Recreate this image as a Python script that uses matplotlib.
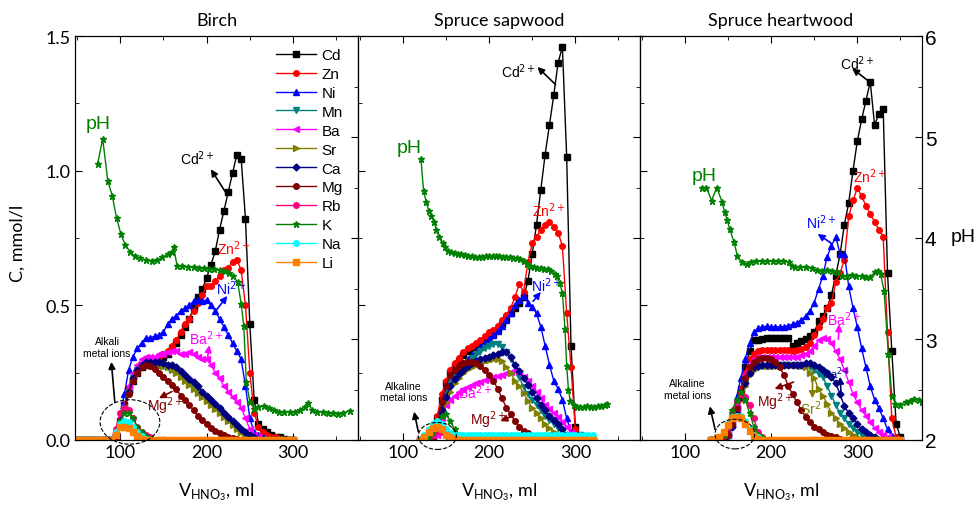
import numpy as np
import matplotlib
matplotlib.use('Agg')
import matplotlib.pyplot as plt
from matplotlib.patches import Ellipse
from matplotlib.ticker import MultipleLocator

NARROW = ['Lato', 'DejaVu Sans']
ARIAL = ['Liberation Sans', 'DejaVu Sans']

ELEMENTS = ['Cd', 'Zn', 'Ni', 'Mn', 'Ba', 'Sr', 'Ca', 'Mg', 'Rb', 'K', 'Na', 'Li']
COLORS = {'Cd': 'black', 'Zn': '#ff0000', 'Ni': '#0000ff', 'Mn': '#008080',
          'Ba': '#ff00ff', 'Sr': '#808000', 'Ca': '#000080', 'Mg': '#800000',
          'Rb': '#ff0080', 'K': '#008000', 'Na': '#00ffff', 'Li': '#ff8000'}
MARKERS = {'Cd': 's', 'Zn': 'o', 'Ni': '^', 'Mn': 'v', 'Ba': '<', 'Sr': '>',
           'Ca': 'D', 'Mg': 'o', 'Rb': 'o', 'K': '*', 'Na': 'o', 'Li': 's'}
MSIZE = {'Cd': 4, 'Zn': 4, 'Ni': 4.5, 'Mn': 4.5, 'Ba': 4.5, 'Sr': 4.5, 'Ca': 3.5,
         'Mg': 4, 'Rb': 4, 'K': 5, 'Na': 4, 'Li': 4}

# ---- Birch: sample volumes (ml) and concentrations (mmol/l) ----
birch_v = np.arange(50, 305, 5)
birch_cd = (95, [0.02, 0.07, 0.13, 0.19, 0.22, 0.25, 0.27, 0.28, 0.29, 0.29, 0.30, 0.31, 0.32, 0.34,
                 0.36, 0.39, 0.42, 0.45, 0.49, 0.53, 0.56, 0.60, 0.65, 0.70, 0.78, 0.85, 0.92, 0.99,
                 1.06, 1.045, 0.82, 0.43, 0.15, 0.06, 0.04, 0.03, 0.02, 0.01, 0.01, 0.005])
birch_zn = (95, [0.02, 0.07, 0.13, 0.19, 0.23, 0.26, 0.28, 0.29, 0.30, 0.30, 0.31, 0.32, 0.33, 0.35,
                 0.37, 0.40, 0.43, 0.45, 0.48, 0.51, 0.54, 0.57, 0.57, 0.59, 0.61, 0.63, 0.64, 0.66,
                 0.67, 0.63, 0.50, 0.25, 0.10, 0.05, 0.03, 0.02, 0.01, 0.01, 0.005])
birch_ni = (95, [0.02, 0.08, 0.17, 0.26, 0.31, 0.34, 0.36, 0.38, 0.38, 0.385, 0.39, 0.40, 0.43, 0.45,
                 0.46, 0.48, 0.49, 0.50, 0.515, 0.52, 0.515, 0.52, 0.50, 0.48, 0.45, 0.42, 0.39, 0.36,
                 0.33, 0.30, 0.20, 0.08, 0.03, 0.02, 0.01])
birch_mn = (95, [0.01, 0.06, 0.12, 0.18, 0.23, 0.26, 0.275, 0.285, 0.285, 0.285, 0.28, 0.275, 0.27,
                 0.265, 0.255, 0.24, 0.225, 0.21, 0.195, 0.18, 0.165, 0.15, 0.135, 0.12, 0.105, 0.09,
                 0.075, 0.06, 0.045, 0.035, 0.025, 0.015, 0.01])
birch_ba = (95, [0.01, 0.05, 0.12, 0.20, 0.25, 0.28, 0.30, 0.31, 0.31, 0.31, 0.32, 0.32, 0.325, 0.33,
                 0.33, 0.32, 0.32, 0.325, 0.32, 0.31, 0.30, 0.30, 0.28, 0.25, 0.23, 0.20, 0.18, 0.16,
                 0.14, 0.12, 0.08, 0.04, 0.02, 0.01])
birch_sr = (95, [0.01, 0.05, 0.11, 0.17, 0.22, 0.25, 0.27, 0.28, 0.285, 0.285, 0.28, 0.275, 0.27, 0.26,
                 0.25, 0.235, 0.22, 0.205, 0.19, 0.175, 0.16, 0.145, 0.13, 0.115, 0.10, 0.085, 0.07,
                 0.055, 0.04, 0.03, 0.02, 0.01])
birch_ca = (95, [0.01, 0.06, 0.12, 0.18, 0.23, 0.26, 0.28, 0.29, 0.29, 0.29, 0.29, 0.285, 0.28, 0.28,
                 0.27, 0.255, 0.24, 0.225, 0.215, 0.20, 0.18, 0.165, 0.15, 0.135, 0.12, 0.10, 0.085,
                 0.07, 0.055, 0.04, 0.03, 0.02, 0.01])
birch_mg = (95, [0.01, 0.05, 0.11, 0.17, 0.22, 0.25, 0.27, 0.28, 0.275, 0.265, 0.25, 0.235, 0.22,
                 0.205, 0.19, 0.165, 0.15, 0.13, 0.11, 0.09, 0.075, 0.06, 0.045, 0.035, 0.025, 0.018,
                 0.012, 0.008, 0.005])
birch_rb = (95, [0.04, 0.10, 0.12, 0.11, 0.08, 0.05, 0.03, 0.02, 0.01])
birch_k = (95, [0.03, 0.07, 0.10, 0.10, 0.08, 0.05, 0.03, 0.015, 0.005])
birch_na = (95, [0.03, 0.06, 0.07, 0.065, 0.05, 0.03, 0.015, 0.005])
birch_li = (95, [0.02, 0.05, 0.05, 0.045, 0.03, 0.015, 0.005])
birch_ph_v = [74, 80, 86, 91, 96, 101, 106, 112, 117, 123, 130, 137, 143, 149, 155, 160, 162, 166,
              172, 178, 185, 191, 197, 203, 209, 215, 221, 226, 231, 236, 240, 243, 246, 250, 255,
              260, 266, 272, 278, 284, 290, 296, 302, 308, 314, 317, 322, 328, 334, 340, 346, 352,
              358, 366]
birch_ph = [4.73, 4.98, 4.56, 4.42, 4.20, 4.04, 3.93, 3.86, 3.82, 3.80, 3.78, 3.77, 3.78, 3.81, 3.84,
            3.86, 3.91, 3.72, 3.72, 3.71, 3.71, 3.70, 3.70, 3.69, 3.69, 3.68, 3.67, 3.65, 3.62, 3.56,
            3.35, 3.13, 2.57, 2.38, 2.31, 2.33, 2.34, 2.32, 2.30, 2.28, 2.28, 2.28, 2.28, 2.30, 2.33,
            2.37, 2.30, 2.28, 2.28, 2.27, 2.27, 2.26, 2.27, 2.29]

# ---- Spruce sapwood ----
sap_v = np.arange(120, 325, 5)
sap_cd = (140, [0.08, 0.15, 0.21, 0.25, 0.275, 0.295, 0.315, 0.33, 0.34, 0.35, 0.36, 0.37, 0.385,
                0.395, 0.41, 0.43, 0.45, 0.47, 0.49, 0.51, 0.53, 0.59, 0.69, 0.80, 0.93, 1.06, 1.17,
                1.28, 1.40, 1.46, 1.05, 0.35, 0.05, 0.02])
sap_zn = (140, [0.09, 0.17, 0.22, 0.26, 0.285, 0.305, 0.325, 0.34, 0.35, 0.36, 0.37, 0.385, 0.40,
                0.41, 0.425, 0.445, 0.465, 0.49, 0.53, 0.58, 0.55, 0.66, 0.73, 0.755, 0.78, 0.80,
                0.81, 0.79, 0.77, 0.72, 0.47, 0.27, 0.04, 0.01])
sap_ni = (140, [0.07, 0.13, 0.18, 0.215, 0.24, 0.265, 0.285, 0.30, 0.315, 0.33, 0.345, 0.36, 0.375,
                0.39, 0.405, 0.425, 0.445, 0.47, 0.50, 0.52, 0.535, 0.51, 0.495, 0.47, 0.42, 0.35,
                0.28, 0.22, 0.19, 0.15, 0.08, 0.03, 0.01])
sap_mn = (140, [0.06, 0.12, 0.17, 0.21, 0.235, 0.255, 0.275, 0.29, 0.305, 0.318, 0.33, 0.34, 0.35,
                0.355, 0.355, 0.345, 0.325, 0.30, 0.27, 0.235, 0.195, 0.17, 0.15, 0.13, 0.11, 0.09,
                0.075, 0.06, 0.045, 0.03, 0.015, 0.005])
sap_ba = (140, [0.02, 0.08, 0.13, 0.15, 0.165, 0.178, 0.19, 0.198, 0.205, 0.21, 0.215, 0.222, 0.228,
                0.233, 0.237, 0.242, 0.247, 0.252, 0.255, 0.25, 0.235, 0.22, 0.20, 0.18, 0.155, 0.13,
                0.115, 0.10, 0.085, 0.065, 0.05, 0.025, 0.01])
sap_sr = (140, [0.04, 0.09, 0.14, 0.18, 0.21, 0.23, 0.25, 0.262, 0.272, 0.28, 0.287, 0.292, 0.296,
                0.30, 0.30, 0.295, 0.27, 0.25, 0.22, 0.20, 0.175, 0.145, 0.12, 0.10, 0.08, 0.06,
                0.045, 0.03, 0.02, 0.01])
sap_ca = (140, [0.05, 0.11, 0.16, 0.20, 0.225, 0.245, 0.26, 0.275, 0.285, 0.295, 0.30, 0.305, 0.31,
                0.315, 0.32, 0.325, 0.326, 0.31, 0.28, 0.255, 0.23, 0.205, 0.18, 0.155, 0.13, 0.11,
                0.09, 0.075, 0.06, 0.04, 0.02, 0.01])
sap_mg = (140, [0.06, 0.14, 0.20, 0.24, 0.26, 0.275, 0.285, 0.29, 0.29, 0.285, 0.275, 0.26, 0.24,
                0.22, 0.19, 0.155, 0.12, 0.095, 0.07, 0.05, 0.035, 0.025, 0.015, 0.01, 0.005])
sap_rb = (130, [0.01, 0.02, 0.035, 0.03, 0.02, 0.01])
sap_k = (130, [0.01, 0.03, 0.06, 0.09, 0.095, 0.07, 0.04, 0.02, 0.01])
sap_na = (120, [0.005, 0.02, 0.04, 0.06, 0.07, 0.06, 0.04, 0.025, 0.02, 0.018, 0.019, 0.018, 0.017,
                0.018, 0.019, 0.018, 0.018, 0.017, 0.018, 0.019, 0.018, 0.018, 0.017, 0.018, 0.019,
                0.018, 0.018, 0.017, 0.018, 0.019, 0.018, 0.018, 0.017, 0.018, 0.019, 0.018, 0.018,
                0.017, 0.018, 0.019, 0.018])
sap_li = (125, [0.01, 0.03, 0.045, 0.048, 0.04, 0.02, 0.01, 0.005])
sap_ph_v = [121, 124, 127, 130, 133, 136, 139, 142, 146, 149, 152, 156, 160, 164, 168, 172, 176, 180,
            184, 188, 192, 196, 200, 204, 208, 212, 216, 220, 224, 228, 232, 236, 240, 244, 248, 252,
            256, 260, 264, 268, 272, 276, 279, 282, 285, 288, 290, 292, 294, 298, 302, 306, 310, 314,
            318, 322, 326, 330, 334, 337]
sap_ph = [4.78, 4.47, 4.36, 4.27, 4.22, 4.16, 4.08, 4.01, 3.95, 3.91, 3.87, 3.86, 3.85, 3.84, 3.84,
          3.83, 3.82, 3.82, 3.81, 3.81, 3.81, 3.82, 3.82, 3.82, 3.82, 3.82, 3.81, 3.81, 3.81, 3.80,
          3.80, 3.79, 3.77, 3.74, 3.72, 3.71, 3.70, 3.70, 3.69, 3.69, 3.67, 3.64, 3.62, 3.55, 3.46,
          3.10, 2.73, 2.50, 2.39, 2.35, 2.33, 2.33, 2.33, 2.34, 2.33, 2.33, 2.34, 2.34, 2.35, 2.36]

# ---- Spruce heartwood ----
heart_v = np.arange(130, 355, 5)
heart_cd = (150, [0.02, 0.06, 0.12, 0.19, 0.27, 0.33, 0.37, 0.37, 0.375, 0.38, 0.38, 0.38, 0.38, 0.38,
                  0.38, 0.35, 0.36, 0.367, 0.374, 0.385, 0.40, 0.44, 0.46, 0.49, 0.54, 0.61, 0.69,
                  0.80, 0.88, 1.00, 1.11, 1.19, 1.26, 1.33, 1.17, 1.21, 1.23, 0.62, 0.33, 0.06, 0.01])
heart_zn = (150, [0.02, 0.06, 0.12, 0.19, 0.25, 0.30, 0.32, 0.33, 0.335, 0.335, 0.335, 0.335, 0.335,
                  0.335, 0.335, 0.33, 0.335, 0.337, 0.345, 0.36, 0.39, 0.42, 0.45, 0.49, 0.51, 0.585,
                  0.62, 0.67, 0.83, 0.89, 0.935, 0.905, 0.87, 0.84, 0.81, 0.78, 0.755, 0.40, 0.08, 0.01])
heart_ni = (150, [0.02, 0.08, 0.16, 0.23, 0.30, 0.36, 0.40, 0.415, 0.42, 0.422, 0.42, 0.42, 0.42, 0.42,
                  0.425, 0.43, 0.435, 0.445, 0.46, 0.48, 0.51, 0.56, 0.61, 0.68, 0.72, 0.755, 0.69,
                  0.69, 0.57, 0.49, 0.42, 0.34, 0.27, 0.20, 0.15, 0.12, 0.08, 0.04, 0.015])
heart_mn = (150, [0.02, 0.05, 0.10, 0.16, 0.21, 0.25, 0.265, 0.27, 0.275, 0.275, 0.275, 0.278, 0.28,
                  0.28, 0.28, 0.28, 0.28, 0.28, 0.28, 0.27, 0.26, 0.245, 0.235, 0.20, 0.165, 0.13,
                  0.10, 0.08, 0.06, 0.045, 0.03, 0.02, 0.01])
heart_ba = (150, [0.02, 0.06, 0.12, 0.18, 0.24, 0.28, 0.30, 0.31, 0.31, 0.31, 0.31, 0.31, 0.31, 0.31,
                  0.31, 0.31, 0.31, 0.315, 0.32, 0.33, 0.35, 0.37, 0.38, 0.375, 0.36, 0.33, 0.30, 0.26,
                  0.215, 0.17, 0.14, 0.11, 0.09, 0.065, 0.045, 0.03, 0.02, 0.01])
heart_sr = (150, [0.015, 0.05, 0.10, 0.15, 0.20, 0.24, 0.26, 0.27, 0.275, 0.275, 0.275, 0.275, 0.275,
                  0.28, 0.28, 0.28, 0.28, 0.275, 0.27, 0.25, 0.23, 0.19, 0.165, 0.135, 0.10, 0.08,
                  0.06, 0.045, 0.03, 0.02, 0.01])
heart_ca = (150, [0.02, 0.05, 0.10, 0.16, 0.21, 0.25, 0.27, 0.275, 0.28, 0.28, 0.28, 0.28, 0.28, 0.28,
                  0.28, 0.28, 0.28, 0.28, 0.285, 0.285, 0.28, 0.27, 0.26, 0.25, 0.235, 0.21, 0.17,
                  0.125, 0.10, 0.08, 0.06, 0.04, 0.03, 0.02, 0.01])
heart_mg = (150, [0.02, 0.06, 0.12, 0.18, 0.23, 0.27, 0.29, 0.30, 0.305, 0.305, 0.30, 0.29, 0.27,
                  0.24, 0.20, 0.17, 0.14, 0.11, 0.085, 0.065, 0.05, 0.04, 0.03, 0.02, 0.015, 0.01,
                  0.005])
heart_rb = (145, [0.02, 0.05, 0.10, 0.14, 0.17, 0.16, 0.13, 0.08, 0.03, 0.01])
heart_k = (145, [0.02, 0.06, 0.11, 0.15, 0.18, 0.15, 0.10, 0.05, 0.02, 0.01])
heart_na = (140, [0.01, 0.03, 0.06, 0.085, 0.09, 0.09, 0.07, 0.04, 0.02, 0.01])
heart_li = (140, [0.01, 0.03, 0.055, 0.08, 0.085, 0.08, 0.06, 0.035, 0.015, 0.005])
heart_ph_v = [120, 125, 131, 137, 143, 146, 149, 152, 157, 161, 166, 172, 177, 183, 189, 195, 202,
              208, 214, 221, 224, 228, 234, 241, 247, 253, 259, 265, 271, 276, 282, 288, 294, 299,
              305, 310, 315, 320, 324, 327, 331, 336, 340, 344, 350, 356, 361, 366, 371, 375]
heart_ph = [4.50, 4.50, 4.37, 4.50, 4.36, 4.26, 4.18, 4.09, 3.96, 3.82, 3.76, 3.74, 3.76, 3.77, 3.77,
            3.77, 3.77, 3.77, 3.77, 3.76, 3.72, 3.71, 3.71, 3.71, 3.70, 3.68, 3.67, 3.68, 3.67, 3.66,
            3.62, 3.62, 3.63, 3.62, 3.62, 3.61, 3.61, 3.66, 3.67, 3.64, 3.48, 2.85, 2.44, 2.36, 2.35,
            2.38, 2.39, 2.41, 2.40, 2.38]


def pad(grid, start, vals):
    # place the measured values on the panel's volume grid, zero elsewhere
    y = np.zeros(len(grid))
    i = int(np.searchsorted(grid, start))
    y[i:i + len(vals)] = vals
    return y


def note(ax, text, pos, color, tail=None, head=None, size=10):
    ax.text(pos[0], pos[1], text, color=color, fontsize=size, ha='center', va='center',
            family=ARIAL, zorder=20)
    if tail is not None:
        ax.annotate('', xy=head, xytext=tail, zorder=20,
                    arrowprops=dict(arrowstyle='-|>', color=color, lw=1.2,
                                    mutation_scale=10, shrinkA=0, shrinkB=0))


def draw_panel(ax, grid, series, ph_v, ph, title):
    for el in ELEMENTS:
        start, vals = series[el]
        ax.plot(grid, pad(grid, start, vals), color=COLORS[el], marker=MARKERS[el],
                ms=MSIZE[el], lw=1.0, label=el)
    ax.set_xlim(48, 375)
    ax.set_ylim(0, 1.5)
    ax.xaxis.set_major_locator(MultipleLocator(100))
    ax.xaxis.set_minor_locator(MultipleLocator(50))
    ax.yaxis.set_major_locator(MultipleLocator(0.5))
    ax.yaxis.set_minor_locator(MultipleLocator(0.25))
    ax.tick_params(which='both', direction='in', top=True, right=False, labelsize=13, pad=3)
    ax.tick_params(which='major', length=5)
    ax.tick_params(which='minor', length=3)
    ax.set_title(title, fontsize=13, family=NARROW, pad=8)
    ax.set_xlabel('V$_{\\mathregular{HNO_3}}$, ml', fontsize=13, family=NARROW, labelpad=14)

    ax2 = ax.twinx()
    ax2.plot(ph_v, ph, color='#008000', marker='*', ms=4.5, lw=1.0)
    ax2.set_ylim(2, 6)
    ax2.yaxis.set_major_locator(MultipleLocator(1))
    ax2.yaxis.set_minor_locator(MultipleLocator(0.5))
    ax2.tick_params(which='both', direction='in', labelsize=15, pad=2)
    ax2.tick_params(which='major', length=5)
    ax2.tick_params(which='minor', length=3)
    for lab in ax.get_xticklabels() + ax.get_yticklabels():
        lab.set_family(NARROW)
    for lab in ax2.get_yticklabels():
        lab.set_family(ARIAL)
    return ax2


fig = plt.figure(figsize=(9.79, 5.10), dpi=100)
bottom, height = 69 / 510, 404 / 510
ax_b = fig.add_axes([75 / 979, bottom, 283 / 979, height])
ax_s = fig.add_axes([358 / 979, bottom, 282 / 979, height])
ax_h = fig.add_axes([640 / 979, bottom, 282 / 979, height])

birch = dict(zip(ELEMENTS, [birch_cd, birch_zn, birch_ni, birch_mn, birch_ba, birch_sr,
                            birch_ca, birch_mg, birch_rb, birch_k, birch_na, birch_li]))
sap = dict(zip(ELEMENTS, [sap_cd, sap_zn, sap_ni, sap_mn, sap_ba, sap_sr,
                          sap_ca, sap_mg, sap_rb, sap_k, sap_na, sap_li]))
heart = dict(zip(ELEMENTS, [heart_cd, heart_zn, heart_ni, heart_mn, heart_ba, heart_sr,
                            heart_ca, heart_mg, heart_rb, heart_k, heart_na, heart_li]))

p_b = draw_panel(ax_b, birch_v, birch, birch_ph_v, birch_ph, 'Birch')
p_s = draw_panel(ax_s, sap_v, sap, sap_ph_v, sap_ph, 'Spruce sapwood')
p_h = draw_panel(ax_h, heart_v, heart, heart_ph_v, heart_ph, 'Spruce heartwood')

for a in (ax_s, ax_h):
    a.tick_params(labelleft=False)
for a in (p_b, p_s):
    a.tick_params(labelright=False)

ax_b.legend(loc='upper left', bbox_to_anchor=(0.69, 0.985), frameon=False, numpoints=1,
            handlelength=2.6, labelspacing=0.32, borderaxespad=0,
            handletextpad=0.35, prop={'family': ARIAL, 'size': 11})

# green pH captions
p_b.text(75, 5.13, 'pH', color='#008000', fontsize=14, ha='center', va='center', family=ARIAL)
p_s.text(107, 4.9, 'pH', color='#008000', fontsize=14, ha='center', va='center', family=ARIAL)
p_h.text(123, 4.62, 'pH', color='#008000', fontsize=14, ha='center', va='center', family=ARIAL)

# Birch labels
note(ax_b, 'Cd$^{2+}$', (189, 1.05), 'black', (223, 0.915), (205, 1.005))
note(ax_b, 'Zn$^{2+}$', (231, 0.715), '#ff0000')
note(ax_b, 'Ni$^{2+}$', (228, 0.565), '#0000ff', (212, 0.485), (224, 0.535))
note(ax_b, 'Ba$^{2+}$', (200, 0.378), '#ff00ff', (201, 0.30), (203, 0.352))
note(ax_b, 'Mg$^{2+}$', (152, 0.13), '#800000', (160, 0.18), (145, 0.155))
note(ax_b, 'Alkali\nmetal ions', (85, 0.345), 'black', (94, 0.14), (90, 0.29), size=7.5)
ax_b.add_patch(Ellipse((111.5, 0.067), 69, 0.165, fill=False, ls='--', lw=0.8,
                       color='black', clip_on=False, zorder=15))

# Spruce sapwood labels
note(ax_s, 'Cd$^{2+}$', (234, 1.37), 'black', (277, 1.32), (256, 1.385))
note(ax_s, 'Zn$^{2+}$', (269, 0.855), '#ff0000')
note(ax_s, 'Ni$^{2+}$', (266, 0.578), '#0000ff', (251, 0.515), (260, 0.55))
note(ax_s, 'Ba$^{2+}$', (184, 0.178), '#ff00ff')
note(ax_s, 'Mg$^{2+}$', (199, 0.078), '#800000', (228, 0.09), (213, 0.07))
note(ax_s, 'Alkaline\nmetal ions', (101, 0.18), 'black', (118, 0.03), (113, 0.105), size=7.5)
ax_s.add_patch(Ellipse((140, 0.015), 44, 0.1, fill=False, ls='--', lw=0.8,
                       color='black', clip_on=False, zorder=15))

# Spruce heartwood labels
note(ax_h, 'Cd$^{2+}$', (300, 1.40), 'black', (314, 1.33), (294, 1.38))
note(ax_h, 'Zn$^{2+}$', (314, 0.98), '#ff0000')
note(ax_h, 'Ni$^{2+}$', (258, 0.81), '#0000ff', (270, 0.73), (254, 0.765))
note(ax_h, 'Ba$^{2+}$', (285, 0.45), '#ff00ff', (278, 0.374), (279, 0.43))
note(ax_h, 'Ca$^{2+}$', (276, 0.25), '#000080', (281, 0.18), (280, 0.235), size=8)
note(ax_h, 'Sr$^{2+}$', (252, 0.12), '#808000', (248, 0.26), (248, 0.155))
note(ax_h, 'Mg$^{2+}$', (205, 0.145), '#800000', (226, 0.215), (204, 0.19))
note(ax_h, 'Alkaline\nmetal ions', (103, 0.19), 'black', (135, 0.04), (129, 0.125), size=7.5)
ax_h.add_patch(Ellipse((158, 0.022), 46, 0.11, fill=False, ls='--', lw=0.8,
                       color='black', clip_on=False, zorder=15))

fig.text(18 / 979, 1 - 243 / 510, 'C, mmol/l', rotation=90, ha='center', va='center',
         fontsize=13, family=NARROW)
fig.text(963 / 979, 1 - 238 / 510, 'pH', ha='center', va='center', fontsize=14, family=ARIAL)

fig.savefig('out.png', dpi=100)
